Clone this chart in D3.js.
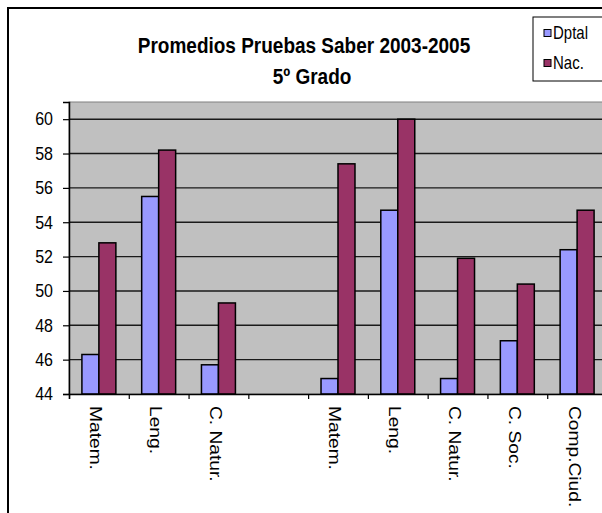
<!DOCTYPE html>
<html>
<head>
<meta charset="utf-8">
<script src="https://cdn.jsdelivr.net/npm/d3@7"></script>
<style>
  html, body { margin: 0; padding: 0; background: #fff; }
  svg { display: block; }
  text { font-family: "Liberation Sans", Arial, sans-serif; fill: #000; }
</style>
</head>
<body>
<svg id="chart" width="602" height="513"></svg>
<script>
// ---- data ----
const categories = ["Matem.", "Leng.", "C. Natur.", "", "Matem.", "Leng.", "C. Natur.", "C. Soc.", "Comp.Ciud."];
const seriesNames = ["Dptal", "Nac."];
const dptalValues = [46.3, 55.5, 45.7, null, 44.9, 54.7, 44.9, 47.1, 52.4];
const nacValues   = [52.8, 58.2, 49.3, null, 57.4, 60.0, 51.9, 50.4, 54.7];
const yTicks = [44, 46, 48, 50, 52, 54, 56, 58, 60];
const titleLines = ["Promedios Pruebas Saber 2003-2005", "5º Grado"];
const colors = ["#9999FF", "#993366"];

// ---- layout ----
const svg = d3.select("#chart");
const plot = { left: 69, right: 607, top: 102, bottom: 394 };
const vs = 1.2; // vertical stretch of the original picture's text

// outer chart border
svg.append("rect").attr("x", 8).attr("y", 8).attr("width", 640).attr("height", 560)
  .attr("fill", "#fff").attr("stroke", "#000").attr("stroke-width", 2);

// title
const titleX = [304, 312], titleY = [53, 84];
titleLines.forEach((t, i) => {
  svg.append("text").attr("transform", `translate(${titleX[i]},${titleY[i]}) scale(1,${vs})`)
    .attr("text-anchor", "middle").attr("font-size", 19).attr("font-weight", "bold").text(t);
});

// scales
const idx = categories.map((d, i) => i);
const x = d3.scaleBand().domain(idx).range([plot.left, plot.right]).paddingInner(0).paddingOuter(0);
const x1 = d3.scaleBand().domain(seriesNames).range([0, x.bandwidth()]).paddingInner(0).paddingOuter(0.76);
const y = d3.scaleLinear().domain([44, 61]).range([plot.bottom, plot.top]);
const xb = d3.scaleLinear().domain([0, categories.length]).range([plot.left, plot.right]);

// plot area
svg.append("rect").attr("x", plot.left).attr("y", plot.top)
  .attr("width", plot.right - plot.left).attr("height", plot.bottom - plot.top)
  .attr("fill", "#C0C0C0").attr("stroke", "#808080").attr("stroke-width", 1);

// gridlines
svg.append("g").selectAll("line").data(yTicks.filter(v => v > 44)).join("line")
  .attr("x1", plot.left).attr("x2", plot.right)
  .attr("y1", d => y(d)).attr("y2", d => y(d))
  .attr("stroke", "#1a1a1a").attr("stroke-width", 1.4);

// bars
const groups = svg.append("g").selectAll("g").data(idx).join("g")
  .attr("transform", d => `translate(${x(d)},0)`);
const series = [dptalValues, nacValues];
groups.selectAll("rect").data(i => seriesNames.map((s, k) => ({ s, k, v: series[k][i] })).filter(d => d.v != null))
  .join("rect")
  .attr("x", d => x1(d.s)).attr("width", x1.bandwidth())
  .attr("y", d => y(d.v)).attr("height", d => y(44) - y(d.v))
  .attr("fill", d => colors[d.k]).attr("stroke", "#000").attr("stroke-width", 1.5);

// y axis
const yAxis = svg.append("g").attr("transform", `translate(${plot.left},0)`)
  .call(d3.axisLeft(y).tickValues(yTicks).tickSize(6).tickPadding(10).tickFormat(d3.format("d")));
yAxis.select(".domain").attr("stroke", "#000").attr("stroke-width", 1.5);
yAxis.selectAll(".tick line").attr("stroke", "#000").attr("stroke-width", 1.2);
yAxis.selectAll(".tick text").attr("font-size", 16).attr("fill", "#000")
  .attr("font-family", "Liberation Sans, Arial, sans-serif")
  .attr("transform", `scale(1,${vs})`).attr("dy", "0.3em");

// x axis (ticks at category boundaries)
const xAxis = svg.append("g").attr("transform", `translate(0,${plot.bottom})`)
  .call(d3.axisBottom(xb).tickValues(d3.range(0, categories.length + 1)).tickSize(5).tickFormat(""));
xAxis.select(".domain").attr("stroke", "#000").attr("stroke-width", 1.5);
xAxis.selectAll(".tick line").attr("stroke", "#000").attr("stroke-width", 1.2);

// category labels (rotated, read top to bottom)
svg.append("g").selectAll("text").data(idx.filter(i => categories[i] !== "")).join("text")
  .attr("transform", i => `translate(${x(i) + x.bandwidth() / 2 - 3},406) rotate(90) scale(${vs},1)`)
  .attr("dy", "0.35em").attr("font-size", 16).text(i => categories[i]);

// legend
const lg = svg.append("g").attr("transform", "translate(533,17)");
lg.append("rect").attr("width", 90).attr("height", 64).attr("fill", "#fff")
  .attr("stroke", "#000").attr("stroke-width", 1);
seriesNames.forEach((s, k) => {
  const cy = 16 + k * 30;
  lg.append("rect").attr("x", 11).attr("y", cy - 3.5).attr("width", 7).attr("height", 7)
    .attr("fill", colors[k]).attr("stroke", "#000").attr("stroke-width", 1);
  lg.append("text").attr("transform", `translate(20,${cy + 6}) scale(1,${vs})`)
    .attr("font-size", 15).text(s);
});
</script>
</body>
</html>
